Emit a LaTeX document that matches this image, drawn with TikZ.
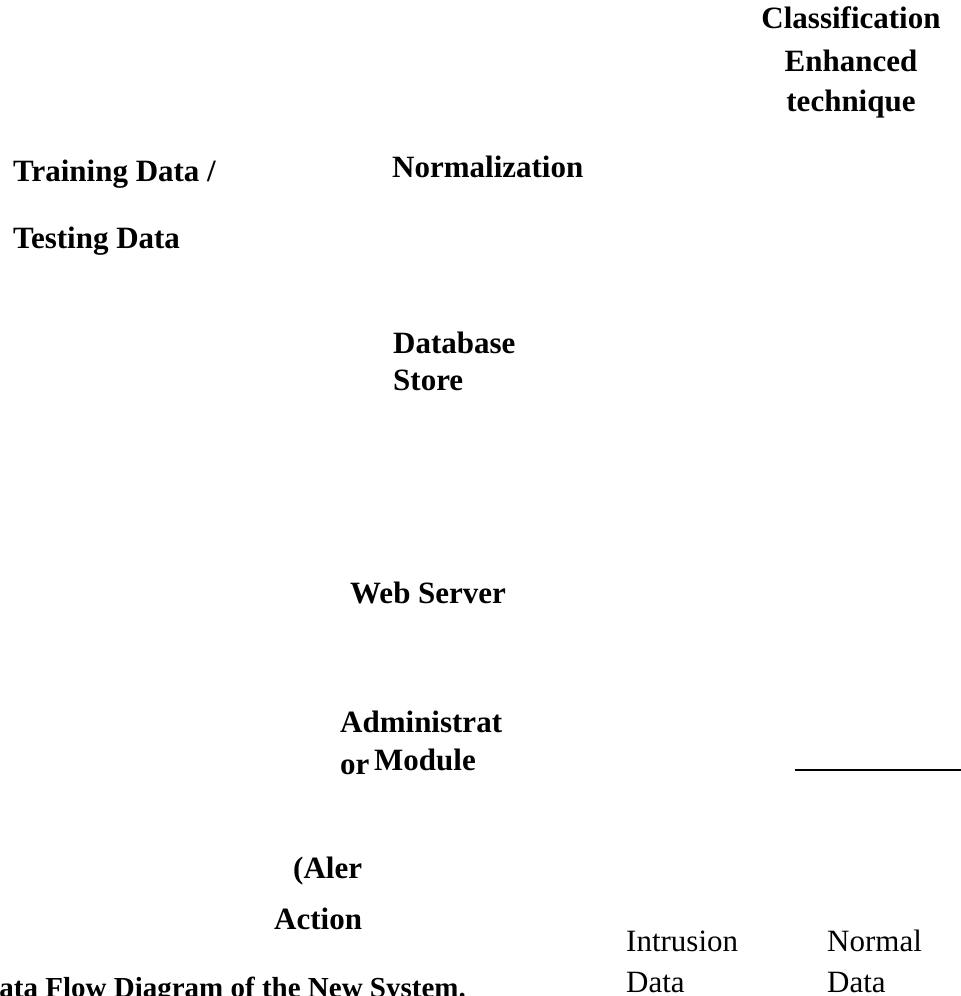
\documentclass[tikz,border=0pt]{standalone}
\usepackage{fontspec}
\setmainfont{Liberation Serif}
\begin{document}
\begin{tikzpicture}[x=1pt,y=-1pt,
  lbl/.style={inner sep=0pt, anchor=base west, font=\fontsize{31}{37}\selectfont\bfseries},
  clbl/.style={lbl, anchor=base},
  caplbl/.style={inner sep=0pt, anchor=base east, font=\fontsize{29}{35}\selectfont\bfseries},
  plain/.style={inner sep=0pt, anchor=base west, font=\fontsize{31}{37}\selectfont},
  rule/.style={line width=1.6pt}]
\useasboundingbox (0,0) rectangle (961,996);

% classification block (top right)
\node[clbl] (cls1) at (851,28) {Classification};
\node[clbl] (cls2) at (851,71) {Enhanced};
\node[clbl] (cls3) at (851,111) {technique};

% input data
\node[lbl] (train) at (13,181) {Training Data /};
\node[lbl] (test) at (13,248) {Testing Data};

% processing steps
\node[lbl] (norm) at (392,177) {Normalization};
\node[lbl] (db1) at (393,353) {Database};
\node[lbl] (db2) at (393,390) {Store};
\node[lbl] (web) at (350,603) {Web Server};
\node[lbl] (adm1) at (340,732) {Administrat};
\node[lbl] (adm2) at (340,774) {or};
\node[lbl] (adm3) at (374,770) {Module};
\node[lbl] (alert) at (293,878) {(Aler};
\node[lbl] (act) at (274,929) {Action};

% caption
\node[caplbl] (cap) at (466,997) {ata Flow Diagram of the New System.};

% output classes
\node[plain] (intr1) at (626,951) {Intrusion};
\node[plain] (intr2) at (626,992) {Data};
\node[plain] (norm1) at (827,951) {Normal};
\node[plain] (norm2) at (827,992) {Data};

% separator line
\coordinate (ls) at (795,770);
\coordinate (le) at (961,770);
\draw[rule] (ls) -- (le);
\end{tikzpicture}
\end{document}
